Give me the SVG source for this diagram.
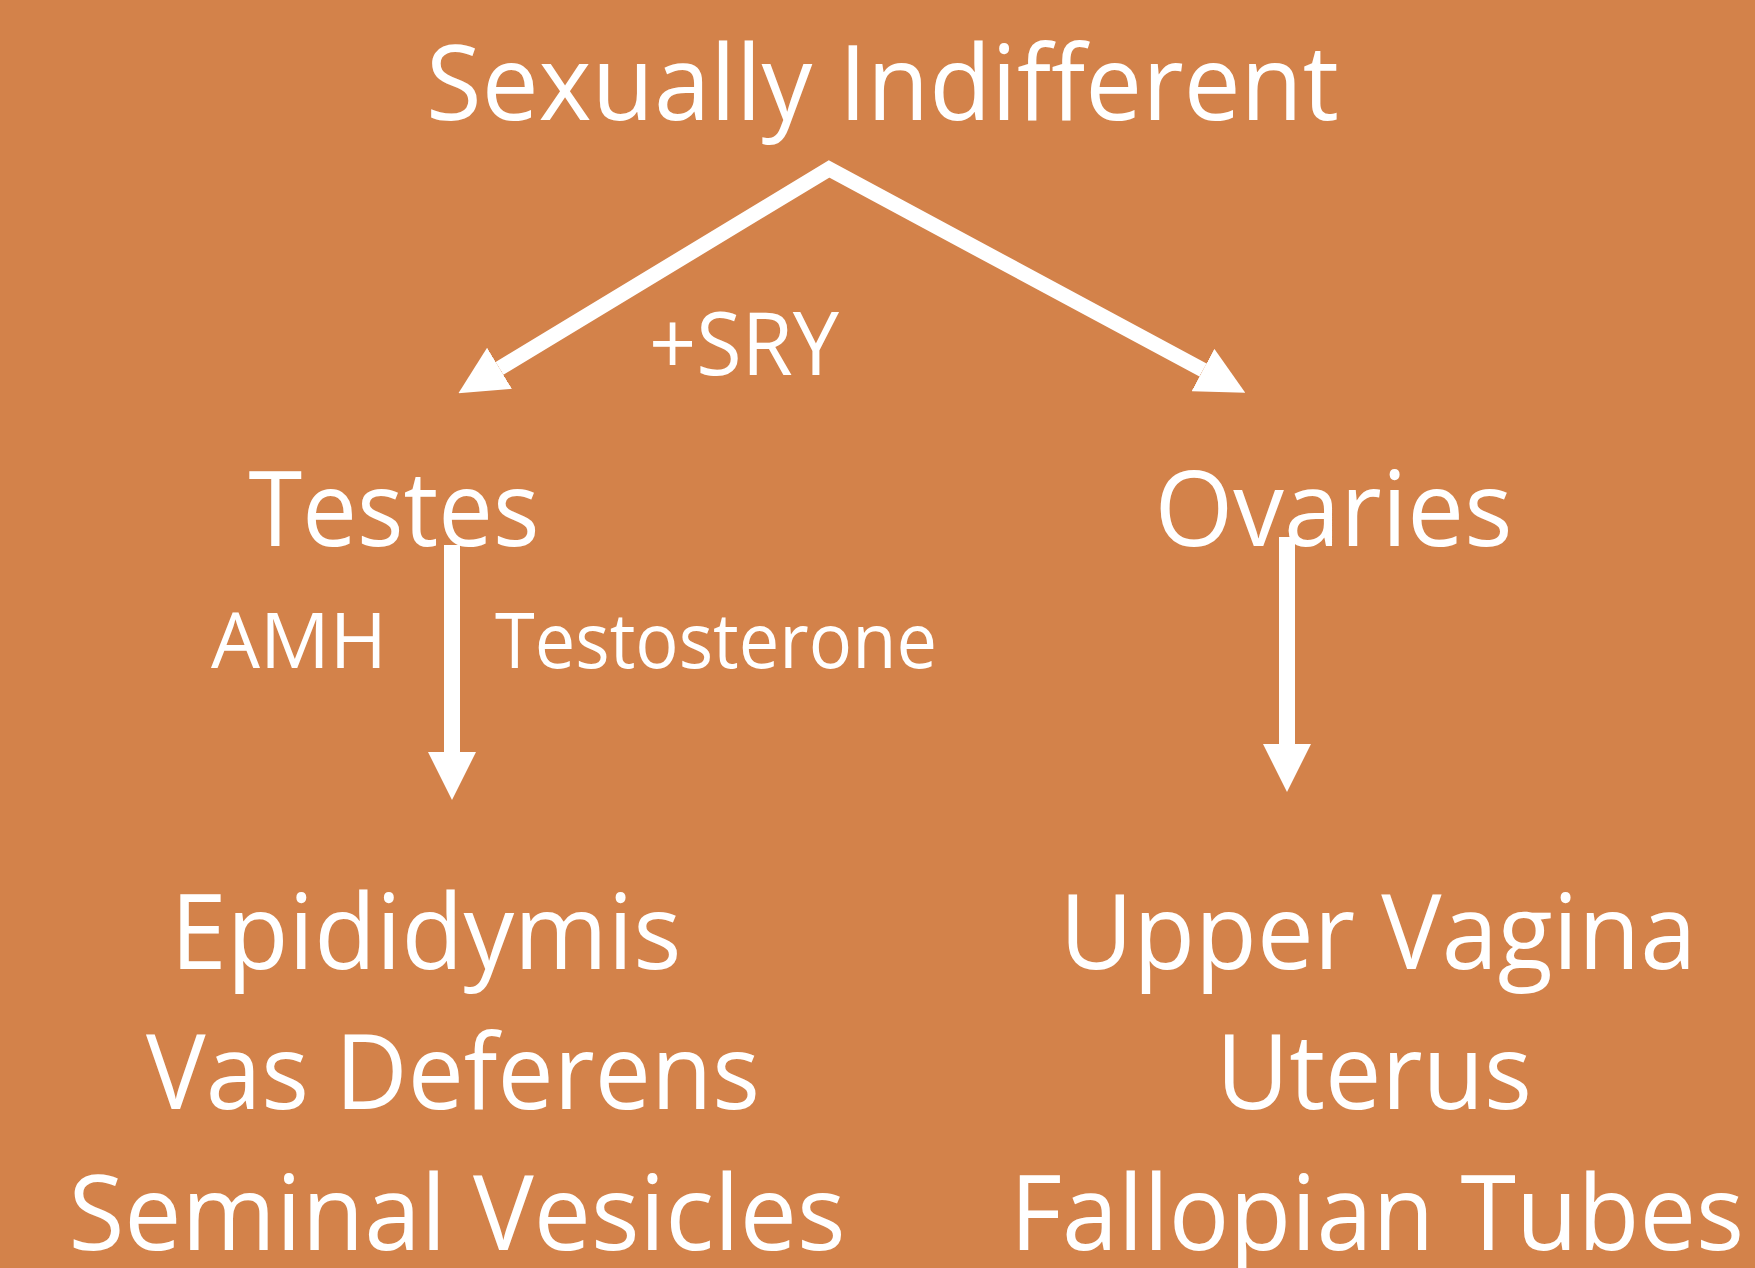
<svg xmlns="http://www.w3.org/2000/svg" width="1755" height="1268" viewBox="0 0 1755 1268">
  <style>
    .t { font-family: "Open Sans", "Noto Sans", "DejaVu Sans", sans-serif; fill: #FFFFFF; text-anchor: middle; }
    .big { font-size: 105px; }
    .mid { font-size: 87px; }
    .sm { font-size: 77px; }
    .conn { fill: none; stroke: #FFFFFF; stroke-linejoin: miter; stroke-linecap: butt; }
  </style>
  <defs>
    <marker id="head" markerUnits="userSpaceOnUse" viewBox="0 0 48 48" markerWidth="48" markerHeight="48" refX="0" refY="24" orient="auto-start-reverse">
      <path d="M0,0 L48,24 L0,48 Z" fill="#FFFFFF"/>
    </marker>
  </defs>
  <rect x="0" y="0" width="1755" height="1268" fill="#D3824A"/>

  <g id="connectors">
    <path class="conn" stroke-width="15" d="M499.5,368.3 L829,169 L1203,370" marker-start="url(#head)" marker-end="url(#head)"/>
    <path class="conn" stroke-width="16" d="M452,545 L452,752" marker-end="url(#head)"/>
    <path class="conn" stroke-width="16" d="M1287,537 L1287,744" marker-end="url(#head)"/>
  </g>

  <g id="node-sexually-indifferent">
    <text class="t big" x="882.5" y="120" textLength="913" lengthAdjust="spacingAndGlyphs">Sexually Indifferent</text>
  </g>
  <g id="label-sry">
    <text class="t mid" x="744" y="375" textLength="190" lengthAdjust="spacingAndGlyphs">+SRY</text>
  </g>
  <g id="node-testes">
    <text class="t big" x="394" y="546" textLength="291" lengthAdjust="spacingAndGlyphs">Testes</text>
  </g>
  <g id="node-ovaries">
    <text class="t big" x="1333.5" y="546" textLength="358" lengthAdjust="spacingAndGlyphs">Ovaries</text>
  </g>
  <g id="label-amh">
    <text class="t sm" x="299" y="668" textLength="176" lengthAdjust="spacingAndGlyphs">AMH</text>
  </g>
  <g id="label-testosterone">
    <text class="t sm" x="716" y="668" textLength="442" lengthAdjust="spacingAndGlyphs">Testosterone</text>
  </g>
  <g id="node-male-ducts">
    <text class="t big" x="426" y="969" textLength="511" lengthAdjust="spacingAndGlyphs">Epididymis</text>
    <text class="t big" x="453" y="1109" textLength="614" lengthAdjust="spacingAndGlyphs">Vas Deferens</text>
    <text class="t big" x="457" y="1250" textLength="777" lengthAdjust="spacingAndGlyphs">Seminal Vesicles</text>
  </g>
  <g id="node-female-ducts">
    <text class="t big" x="1378" y="969" textLength="637" lengthAdjust="spacingAndGlyphs">Upper Vagina</text>
    <text class="t big" x="1374" y="1109" textLength="316" lengthAdjust="spacingAndGlyphs">Uterus</text>
    <text class="t big" x="1377" y="1250" textLength="734" lengthAdjust="spacingAndGlyphs">Fallopian Tubes</text>
  </g>
</svg>
